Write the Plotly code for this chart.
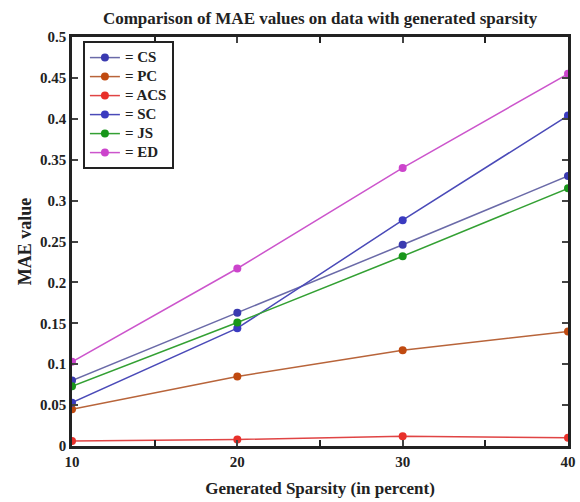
import plotly.graph_objects as go

x = [10, 20, 30, 40]
series = {
    "CS": [0.080, 0.163, 0.246, 0.330],
    "PC": [0.045, 0.085, 0.117, 0.140],
    "ACS": [0.006, 0.008, 0.012, 0.010],
    "SC": [0.053, 0.144, 0.276, 0.404],
    "JS": [0.073, 0.151, 0.232, 0.315],
    "ED": [0.103, 0.217, 0.340, 0.455],
}
line_colors = {"CS": "#6a6aa8", "PC": "#b8643a", "ACS": "#e04444", "SC": "#4a4ab8", "JS": "#33a033", "ED": "#cc55cc"}
marker_colors = {"CS": "#3a3ab0", "PC": "#c04a10", "ACS": "#e8302a", "SC": "#3a3ac0", "JS": "#18961a", "ED": "#cc44cc"}

font = "Liberation Serif"
fig = go.Figure()
for name, vals in series.items():
    fig.add_trace(go.Scatter(
        x=x, y=vals, mode="lines+markers",
        name='<span style="font-size:15px"><b>= ' + name + '</b></span>',
        line=dict(color=line_colors[name], width=1.5),
        marker=dict(color=marker_colors[name], size=8),
    ))

fig.update_layout(
    width=580, height=502,
    margin=dict(l=72, r=12, t=37, b=56, autoexpand=False),
    paper_bgcolor="white", plot_bgcolor="white",
    font=dict(family=font, color="#222", size=15),
    title=dict(text="<b>Comparison of MAE values on data with generated sparsity</b>",
               x=0.552, xanchor="center", y=0.965, yanchor="middle", font=dict(size=17)),
    xaxis=dict(range=[10, 40], tickvals=[10, 20, 30, 40], ticktext=["<b>10</b>", "<b>20</b>", "<b>30</b>", "<b>40</b>"],
               ticks="inside", ticklen=6, tickwidth=2, showline=True, linecolor="#222", linewidth=2.5,
               mirror="ticks", showgrid=False, zeroline=False, automargin=False,
               minor=dict(tickvals=[15, 25, 35], ticks="inside", ticklen=6, tickwidth=2, tickcolor="#222"),
               title=dict(text="<b>Generated Sparsity (in percent)</b>", font=dict(size=17), standoff=14)),
    yaxis=dict(range=[0, 0.5], tickvals=[i * 0.05 for i in range(11)],
               ticktext=["<b>0</b>", "<b>0.05</b>", "<b>0.1</b>", "<b>0.15</b>", "<b>0.2</b>", "<b>0.25</b>",
                         "<b>0.3</b>", "<b>0.35</b>", "<b>0.4</b>", "<b>0.45</b>", "<b>0.5</b>"],
               ticks="inside", ticklen=6, tickwidth=2, showline=True, linecolor="#222", linewidth=2.5,
               mirror="ticks", showgrid=False, zeroline=False, automargin=False,
               title=dict(text="<b>MAE value</b>", font=dict(size=18), standoff=4)),
    legend=dict(x=0.022, y=0.99, xanchor="left", yanchor="top", bgcolor="white",
                bordercolor="#222", borderwidth=2, font=dict(size=12), tracegroupgap=0,
                itemwidth=30),
    showlegend=True,
)
fig.write_html("out.html")
